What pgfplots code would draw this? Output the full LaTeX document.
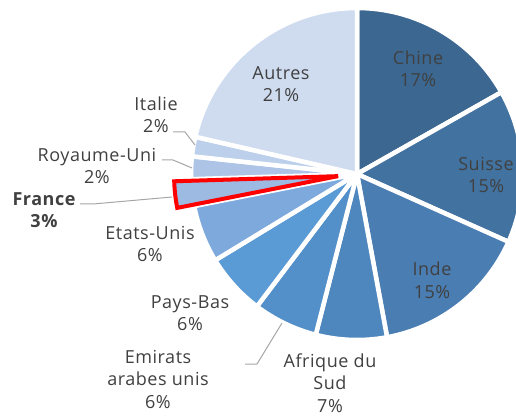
\documentclass[border=0pt]{standalone}
\usepackage{pgfplots}
\pgfplotsset{compat=1.18}
\usepackage{pgfplotstable}
\usepackage{fontspec}
\setmainfont{Open Sans}[LetterSpace=3]

\definecolor{c0}{HTML}{3B6791}
\definecolor{c1}{HTML}{42729F}
\definecolor{c2}{HTML}{4A7DB2}
\definecolor{c3}{HTML}{4E87BE}
\definecolor{c4}{HTML}{5390CA}
\definecolor{c5}{HTML}{5B9BD5}
\definecolor{c6}{HTML}{7EA9DC}
\definecolor{c7}{HTML}{9DBAE2}
\definecolor{c8}{HTML}{ADC4E6}
\definecolor{c9}{HTML}{BCCFEB}
\definecolor{c10}{HTML}{CFDCEF}
\definecolor{txt}{HTML}{404040}
\definecolor{lead}{HTML}{A6A6A6}

% shares (%), clockwise from 12 o'clock
\pgfplotstableread{
country value
Chine 16.8
Suisse 14.9
Inde 15.4
AfriqueduSud 6.9
Emirats 6.3
PaysBas 6.0
EtatsUnis 5.6
France 2.6
RoyaumeUni 2.2
Italie 1.9
Autres 21.4
}\shares

\begin{document}
\begin{tikzpicture}
\gdef\cum{0}
\foreach \i in {0,...,10}{%
  \pgfplotstablegetelem{\i}{value}\of\shares
  \pgfmathsetmacro\sa{90-3.6*\cum}%
  \pgfmathsetmacro\newcum{\cum+\pgfplotsretval}%
  \pgfmathsetmacro\ea{90-3.6*\newcum}%
  \pgfmathsetmacro\md{(\sa+\ea)/2}%
  \expandafter\xdef\csname sa\i\endcsname{\sa}%
  \expandafter\xdef\csname ea\i\endcsname{\ea}%
  \expandafter\xdef\csname md\i\endcsname{\md}%
  \xdef\cum{\newcum}%
}
\begin{axis}[
  x=1pt, y=1pt, xmin=0, xmax=516, ymin=0, ymax=418,
  hide axis, clip=true, at={(0,0)}, anchor=south west,
]
\path (axis cs:0,0) rectangle (axis cs:516,418);
\pgfplotsinvokeforeach{0,1,2,3,4,5,6,8,9,10}{
  \filldraw[fill=c#1, draw=white, line width=4.5pt, line join=round]
    (axis cs:357,244) -- ++(\csname sa#1\endcsname:166pt)
    arc[start angle=\csname sa#1\endcsname, end angle=\csname ea#1\endcsname, radius=166pt] -- cycle;
}
\filldraw[fill=c7, draw=red, line width=4pt]
  ([shift={(\csname md7\endcsname:19pt)}]axis cs:357,244) -- ++(\csname sa7\endcsname:164pt)
  arc[start angle=\csname sa7\endcsname, end angle=\csname ea7\endcsname, radius=164pt] -- cycle;

% leader lines
\draw[lead, line width=1pt] (axis cs:173,286) -- (axis cs:185,286) -- (axis cs:195,273);
\draw[lead, line width=1pt] (axis cs:162,258) -- (axis cs:173,258) -- (axis cs:192,250);
\draw[lead, line width=1pt] (axis cs:80,214) -- (axis cs:93,214) -- (axis cs:172,221);
\draw[lead, line width=1pt] (axis cs:245,54) -- (axis cs:257,54) -- (axis cs:282,95);

\tikzset{lab/.style={text=txt, align=center, inner sep=0pt, font=\fontsize{18}{22.5}\selectfont}}
\node[lab] at (axis cs:418,349) {Chine\\17\%};
\node[lab] at (axis cs:486,243) {Suisse\\15\%};
\node[lab] at (axis cs:432,138) {Inde\\15\%};
\node[lab] at (axis cs:330,35) {Afrique du\\Sud\\7\%};
\node[lab] at (axis cs:158,39) {Emirats\\arabes unis\\6\%};
\node[lab] at (axis cs:190,105) {Pays-Bas\\6\%};
\node[lab] at (axis cs:150,174) {Etats-Unis\\6\%};
\node[lab, font=\fontsize{18}{22.5}\selectfont\bfseries] at (axis cs:44,208) {France\\3\%};
\node[lab] at (axis cs:97,252) {Royaume-Uni\\2\%};
\node[lab] at (axis cs:156,303) {Italie\\2\%};
\node[lab] at (axis cs:281,334) {Autres\\21\%};
\end{axis}
\end{tikzpicture}
\end{document}
